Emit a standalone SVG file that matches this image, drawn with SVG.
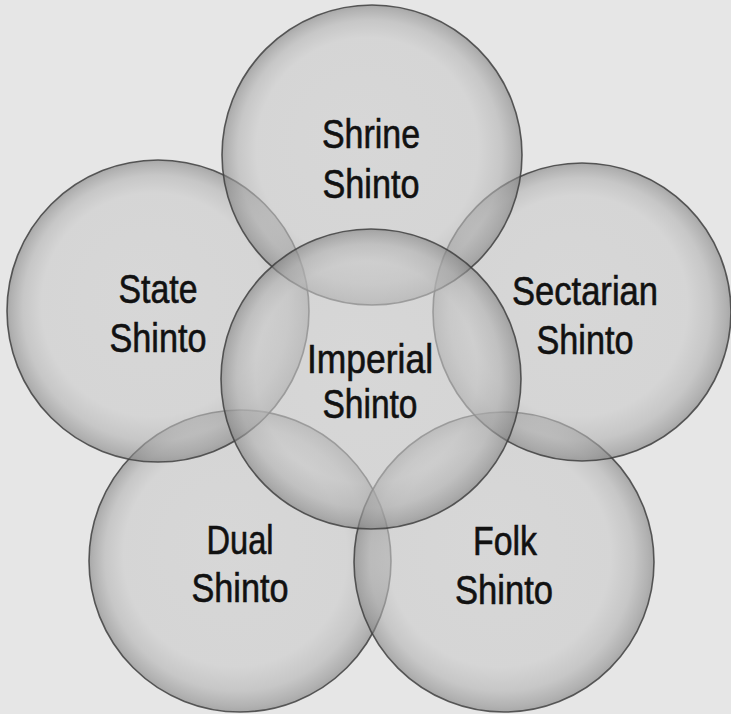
<svg xmlns="http://www.w3.org/2000/svg" width="731" height="714" viewBox="0 0 731 714">
<defs>
<radialGradient id="g" cx="0.5" cy="0.5" r="0.5" fx="0.44" fy="0.42">
<stop offset="0" stop-color="#cdcdcd"/>
<stop offset="0.74" stop-color="#cacaca"/>
<stop offset="0.88" stop-color="#b2b2b2"/>
<stop offset="0.97" stop-color="#8e8e8e"/>
<stop offset="1" stop-color="#7e7e7e"/>
</radialGradient>
<style>
.c{fill:url(#g);fill-opacity:0.6;stroke:#404040;stroke-width:1.6;stroke-opacity:0.85}
.t{font-family:"Liberation Sans",Arial,sans-serif;font-size:40px;fill:#111;stroke:#111;stroke-width:0.6;text-anchor:middle}
</style>
</defs>
<rect width="731" height="714" fill="#e6e6e6"/>
<g id="dual"><circle class="c" cx="240" cy="561" r="151"/></g>
<g id="folk"><circle class="c" cx="504" cy="562" r="150"/></g>
<g id="state"><circle class="c" cx="158" cy="311" r="151"/></g>
<g id="sectarian"><circle class="c" cx="582" cy="312" r="149"/></g>
<g id="shrine"><circle class="c" cx="372" cy="155" r="150"/></g>
<g id="imperial"><circle class="c" cx="371" cy="379" r="150"/></g>
<g id="connectors"></g>
<g id="labels">
<text class="t" x="371" y="148" textLength="98" lengthAdjust="spacingAndGlyphs">Shrine</text>
<text class="t" x="371" y="198" textLength="97" lengthAdjust="spacingAndGlyphs">Shinto</text>
<text class="t" x="158" y="303" textLength="79" lengthAdjust="spacingAndGlyphs">State</text>
<text class="t" x="158" y="352" textLength="97" lengthAdjust="spacingAndGlyphs">Shinto</text>
<text class="t" x="585" y="305" textLength="146" lengthAdjust="spacingAndGlyphs">Sectarian</text>
<text class="t" x="585" y="354" textLength="97" lengthAdjust="spacingAndGlyphs">Shinto</text>
<text class="t" x="370" y="373" textLength="126" lengthAdjust="spacingAndGlyphs">Imperial</text>
<text class="t" x="370" y="418" textLength="95" lengthAdjust="spacingAndGlyphs">Shinto</text>
<text class="t" x="240" y="554" textLength="67" lengthAdjust="spacingAndGlyphs">Dual</text>
<text class="t" x="240" y="602" textLength="97" lengthAdjust="spacingAndGlyphs">Shinto</text>
<text class="t" x="505" y="555" textLength="64" lengthAdjust="spacingAndGlyphs">Folk</text>
<text class="t" x="504" y="604" textLength="98" lengthAdjust="spacingAndGlyphs">Shinto</text>
</g>
</svg>
